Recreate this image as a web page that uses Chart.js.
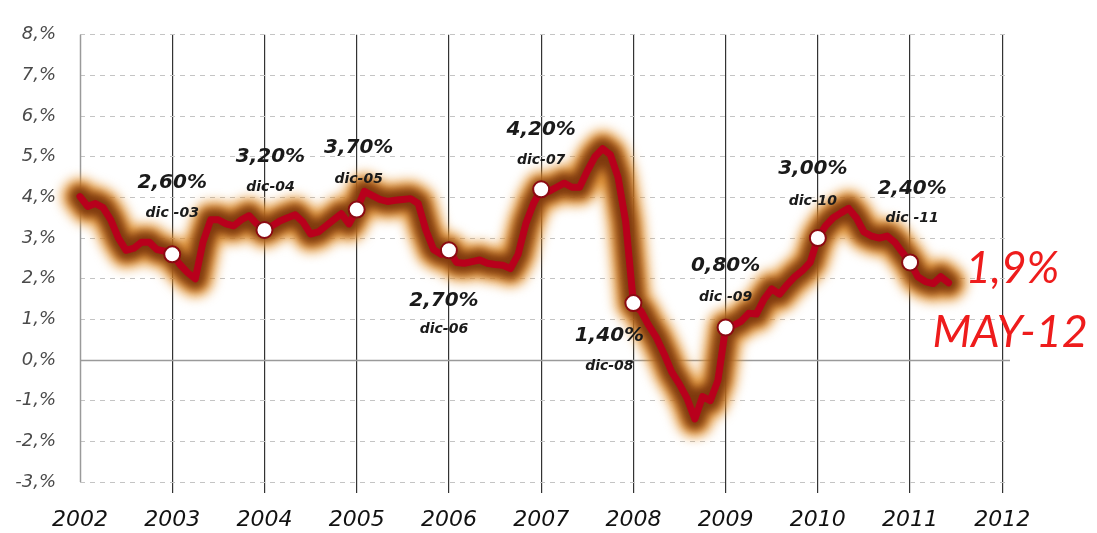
<!DOCTYPE html>
<html>
<head>
<meta charset="utf-8">
<script src="https://cdn.jsdelivr.net/npm/chart.js@4"></script>
<style>
  html, body { margin: 0; padding: 0; background: #fff; }
  #wrap { width: 1097px; height: 533px; }
</style>
</head>
<body>
<div id="wrap"><canvas id="ipcChart"></canvas></div>
<script>
// tick labels on the time axis, one every 12 months
const years = ['2002', '2003', '2004', '2005', '2006', '2007', '2008', '2009', '2010', '2011', '2012'];

// monthly rate, %
const ipc = [
  4.02, 3.78, 3.85, 3.75, 3.45, 3.00, 2.70, 2.75, 2.90, 2.90, 2.72, 2.68, 2.60,
  2.35, 2.15, 2.00, 2.90, 3.45, 3.45, 3.35, 3.30, 3.45, 3.55, 3.35, 3.20,
  3.30, 3.42, 3.50, 3.57, 3.40, 3.10, 3.15, 3.30, 3.45, 3.60, 3.35, 3.70,
  4.15, 4.05, 3.95, 3.90, 3.93, 3.95, 3.97, 3.85, 3.20, 2.72, 2.60, 2.70,
  2.40, 2.38, 2.42, 2.46, 2.38, 2.35, 2.33, 2.25, 2.60, 3.35, 3.85, 4.20,
  4.15, 4.25, 4.35, 4.25, 4.25, 4.65, 5.00, 5.20, 5.05, 4.50, 3.40, 1.40,
  1.20, 0.85, 0.55, 0.15, -0.30, -0.60, -0.95, -1.45, -0.90, -1.00, -0.50, 0.80,
  0.85, 0.95, 1.15, 1.13, 1.50, 1.75, 1.62, 1.85, 2.05, 2.20, 2.40, 3.00,
  3.30, 3.50, 3.62, 3.73, 3.50, 3.15, 3.05, 3.00, 3.05, 2.90, 2.65, 2.40,
  2.05, 1.93, 1.88, 2.05, 1.90
];

// december points that get a marker and a caption
const decIdx = [12, 24, 36, 48, 60, 72, 84, 96, 108];
const decNames = ['dic -03', 'dic-04', 'dic-05', 'dic-06', 'dic-07', 'dic-08', 'dic -09', 'dic-10', 'dic -11'];
const lastName = 'MAY-12';

// caption placement relative to each marker: [dx, dy value, dy month]
const captionOffsets = [
  [0, -72, -41], [6, -73, -43], [2, -62, -30], [-5, 51, 79], [0, -59, -29],
  [-24, 33, 63], [0, -62, -30], [-5, -69, -37], [2, -74, -44]
];

const pct = v => v.toFixed(2).replace('.', ',') + '%';

const points = ipc.map((v, i) => ({ x: i, y: v }));
const markers = decIdx.map(i => ({ x: i, y: ipc[i] }));

const glow = {
  id: 'glow',
  beforeDatasetDraw(chart, args) {
    const ds = chart.data.datasets[args.index];
    if (ds.blur) { chart.ctx.save(); chart.ctx.filter = 'blur(' + ds.blur + 'px)'; }
  },
  afterDatasetDraw(chart, args) {
    if (chart.data.datasets[args.index].blur) chart.ctx.restore();
  }
};

// solid zero line and left axis line over the dashed grid
const axisLines = {
  id: 'axisLines',
  beforeDatasetsDraw(chart) {
    const { ctx, chartArea, scales } = chart;
    const y = Math.round(scales.y.getPixelForValue(0)) + 0.5;
    ctx.save();
    ctx.strokeStyle = '#9a9a9a';
    ctx.lineWidth = 1.5;
    ctx.beginPath();
    ctx.moveTo(chartArea.left, y);
    ctx.lineTo(chartArea.right, y);
    ctx.moveTo(chartArea.left + 0.5, chartArea.top);
    ctx.lineTo(chartArea.left + 0.5, chartArea.bottom);
    ctx.stroke();
    ctx.restore();
  }
};

const captions = {
  id: 'captions',
  afterDatasetsDraw(chart) {
    const { ctx, scales } = chart;
    ctx.save();
    ctx.textAlign = 'center';
    ctx.textBaseline = 'middle';
    decIdx.forEach((idx, k) => {
      const x = scales.x.getPixelForValue(idx);
      const y = scales.y.getPixelForValue(ipc[idx]);
      const [dx, dyv, dym] = captionOffsets[k];
      ctx.fillStyle = '#1a1a1a';
      ctx.font = 'italic bold 20px "DejaVu Sans"';
      ctx.fillText(pct(ipc[idx]), x + dx, y + dyv);
      ctx.font = 'italic bold 14px "DejaVu Sans"';
      ctx.fillText(decNames[k], x + dx, y + dym);
    });
    // latest value
    const li = ipc.length - 1;
    const lx = scales.x.getPixelForValue(li);
    const ly = scales.y.getPixelForValue(ipc[li]);
    ctx.textAlign = 'left';
    ctx.fillStyle = '#ee1c1c';
    ctx.font = 'italic 44px Lato';
    ctx.fillText(ipc[li].toFixed(1).replace('.', ',') + '%', lx + 17, ly - 14);
    ctx.font = 'italic 45px Lato';
    ctx.fillText(lastName, lx - 16, ly + 50);
    ctx.restore();
  }
};

new Chart(document.getElementById('ipcChart'), {
  type: 'line',
  data: {
    datasets: [
      {
        data: markers,
        showLine: false,
        pointRadius: 8,
        pointBackgroundColor: '#ffffff',
        pointBorderColor: '#8c0a12',
        pointBorderWidth: 2,
        order: 0
      },
      {
        data: points,
        borderColor: '#b8001c',
        borderWidth: 7,
        borderJoinStyle: 'round',
        borderCapStyle: 'round',
        pointRadius: 0,
        tension: 0,
        clip: false,
        order: 1
      },
      {
        data: points,
        borderColor: 'rgba(120, 52, 12, 0.95)',
        borderWidth: 22,
        borderJoinStyle: 'round',
        borderCapStyle: 'round',
        pointRadius: 0,
        tension: 0,
        clip: false,
        blur: 4,
        order: 2
      },
      {
        data: points,
        borderColor: 'rgba(228, 145, 45, 0.95)',
        borderWidth: 36,
        borderJoinStyle: 'round',
        borderCapStyle: 'round',
        pointRadius: 0,
        tension: 0,
        clip: false,
        blur: 6,
        order: 3
      }
    ]
  },
  options: {
    responsive: true,
    maintainAspectRatio: false,
    animation: false,
    layout: { padding: { top: 27, right: 87, bottom: 0, left: 0 } },
    plugins: { legend: { display: false }, tooltip: { enabled: false } },
    scales: {
      x: {
        type: 'linear',
        min: 0,
        max: 121,
        afterBuildTicks(scale) {
          scale.ticks = years.map((y, i) => ({ value: i * 12 }));
        },
        afterFit(scale) { scale.height = 51; },
        ticks: {
          padding: 14,
          color: '#111',
          font: { family: 'DejaVu Sans', size: 22, style: 'italic' },
          callback: (v, i) => years[i]
        },
        grid: {
          color: ctx => ctx.index === 0 ? 'rgba(0,0,0,0)' : '#333',
          lineWidth: 1.2,
          tickLength: 11
        },
        border: { display: false }
      },
      y: {
        min: -3,
        max: 8,
        afterFit(scale) { scale.width = 80; },
        ticks: {
          stepSize: 1,
          padding: 24,
          color: '#4a4a4a',
          font: { family: 'DejaVu Sans', size: 18, style: 'italic' },
          callback: v => v + ',%'
        },
        grid: { color: '#c4c4c4', lineWidth: 1, drawTicks: false },
        border: { display: false, dash: [5, 5] }
      }
    }
  },
  plugins: [glow, axisLines, captions]
});
</script>
</body>
</html>
